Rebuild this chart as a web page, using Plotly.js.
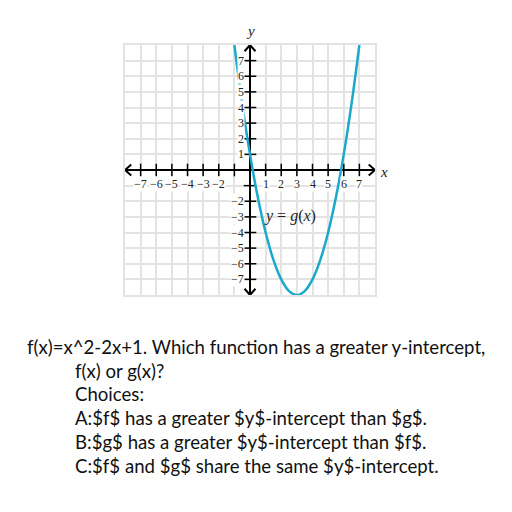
<!DOCTYPE html>
<html><head><meta charset="utf-8">
<script src="https://cdn.plot.ly/plotly-3.0.1.min.js"></script>
<style>body{margin:0;background:#fff}#c{width:512px;height:512px}</style>
</head><body><div id="c"></div>
<script>
// Curve points
const curveX = [-1, -0.5, 0, 0.5, 1, 1.5, 2, 2.5, 3, 3.5, 4, 4.5, 5, 5.5, 6, 6.5, 7];
const curveY = [8, 4.25, 1, -1.75, -4, -5.75, -7, -7.75, -8, -7.75, -7, -5.75, -4, -1.75, 1, 4.25, 8];
const tickVals = [-7,-6,-5,-4,-3,-2,-1,1,2,3,4,5,6,7];
const xLabelVals = [-7,-6,-5,-4,-3,-2,1,2,3,4,5,6,7];
const yLabelVals = [7,6,5,4,3,2,1,-2,-3,-4,-5,-6,-7];
const questionLines = [
  "f(x)=x^2-2x+1. Which function has a greater y-intercept,",
  "f(x) or g(x)?",
  "Choices:",
  "A:$f$ has a greater $y$-intercept than $g$.",
  "B:$g$ has a greater $y$-intercept than $f$.",
  "C:$f$ and $g$ share the same $y$-intercept."
];
const R = 8;
const minus = v => (v < 0 ? "\u2212" + Math.abs(v) : String(v));

const axisStyle = {color:'#000', width:2};
const traces = [
  {x:[-R,R], y:[0,0], mode:'lines', line:axisStyle},
  {x:[0,0], y:[-R,R], mode:'lines', line:axisStyle},
  // arrow chevrons
  {x:[-R+0.4,-R,-R+0.4], y:[0.35,0,-0.35], mode:'lines', line:axisStyle},
  {x:[R-0.4,R,R-0.4], y:[0.35,0,-0.35], mode:'lines', line:axisStyle},
  {x:[-0.35,0,0.35], y:[R-0.4,R,R-0.4], mode:'lines', line:axisStyle},
  {x:[-0.35,0,0.35], y:[-R+0.4,-R,-R+0.4], mode:'lines', line:axisStyle},
  // tick marks
  {x:tickVals, y:tickVals.map(()=>0), mode:'markers', marker:{symbol:'line-ns-open', size:9, color:'#000', line:{color:'#000', width:1.5}}},
  {x:tickVals.map(()=>0), y:tickVals, mode:'markers', marker:{symbol:'line-ew-open', size:9, color:'#000', line:{color:'#000', width:1.5}}},
  // curve g(x)
  {x:curveX, y:curveY, mode:'lines', line:{color:'#1aa8cb', width:2.5, shape:'spline', smoothing:1}, cliponaxis:true}
];

const serif = 'Liberation Serif';
const ann = [];
const tickFont = {family:serif, size:12, color:'#222'};
xLabelVals.forEach(v => ann.push({x:v, y:-0.9, xref:'x', yref:'y', text:minus(v), showarrow:false,
  font:tickFont, bgcolor:'#fff', borderpad:0, xanchor:'center', yanchor:'middle'}));
yLabelVals.forEach(v => ann.push({x:-0.3, y:v, xref:'x', yref:'y', text:minus(v), showarrow:false,
  font:tickFont, bgcolor:'#fff', borderpad:0, xanchor:'right', yanchor:'middle'}));

const px2x = p => (p - 125) / 250;
const py2y = p => (295 - p) / 250;
ann.push({x:px2x(384), y:py2y(172), xref:'paper', yref:'paper', text:'<i>x</i>', showarrow:false, font:{family:serif, size:15, color:'#222'}, xanchor:'center', yanchor:'middle'});
ann.push({x:px2x(250), y:py2y(31), xref:'paper', yref:'paper', text:'<i>y</i>', showarrow:false, font:{family:serif, size:15, color:'#222'}, xanchor:'center', yanchor:'middle'});
ann.push({x:2.55, y:-2.95, xref:'x', yref:'y', text:'<i>y</i> = <i>g</i>(<i>x</i>)', showarrow:false, font:{family:serif, size:16, color:'#222'}, xanchor:'center', yanchor:'middle'});

const lineY = [347, 370.5, 394, 418, 442, 465.5];
questionLines.forEach((t, i) => ann.push({x:px2x(i===0 ? 25 : 73), y:py2y(lineY[i]), xref:'paper', yref:'paper',
  text:t, showarrow:false, xanchor:'left', yanchor:'middle', font:{family:'Lato', size:18.6, color:'#111'}}));

const axisCommon = {range:[-R,R], dtick:1, tick0:0, showgrid:true, gridcolor:'#e3e3e3', gridwidth:2,
  zeroline:false, showticklabels:false, ticks:'', showline:true, linecolor:'#e3e3e3', linewidth:2, mirror:true, fixedrange:true};
const layout = {
  width:512, height:512, margin:{l:125, r:137, t:45, b:217},
  paper_bgcolor:'#fff', plot_bgcolor:'#fff', showlegend:false,
  xaxis:Object.assign({}, axisCommon), yaxis:Object.assign({}, axisCommon),
  annotations:ann
};
Plotly.newPlot('c', traces.map(t => Object.assign({hoverinfo:'skip', showlegend:false}, t)), layout, {staticPlot:true});
</script></body></html>
